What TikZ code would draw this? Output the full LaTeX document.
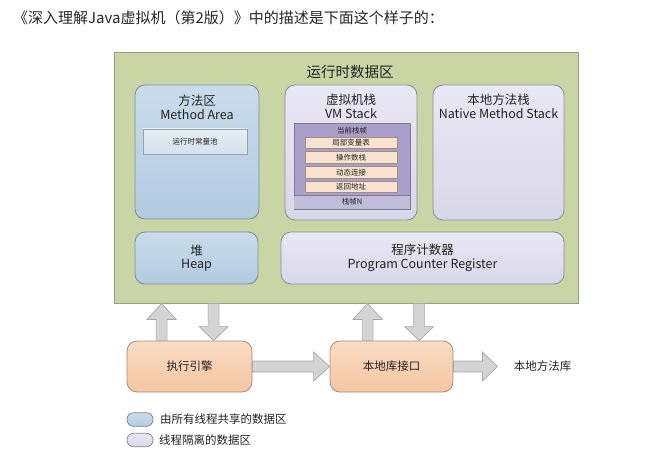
\documentclass[tikz,border=0pt]{standalone}
\usepackage{fontspec}
\setmainfont{Noto Sans CJK SC}
\usetikzlibrary{calc}

\definecolor{areagreen}{HTML}{CAD5A6}
\definecolor{areaedge}{HTML}{939E86}
\definecolor{sharedtop}{HTML}{CADCEC}
\definecolor{sharedbot}{HTML}{B3CAE0}
\definecolor{sharededge}{HTML}{7D8B99}
\definecolor{privtop}{HTML}{EAE8F4}
\definecolor{privbot}{HTML}{D9D6E9}
\definecolor{privedge}{HTML}{8C8B99}
\definecolor{pooltop}{HTML}{E6EDF4}
\definecolor{poolbot}{HTML}{D6E1EC}
\definecolor{frameviolet}{HTML}{A8A0C9}
\definecolor{framelight}{HTML}{C2BCDB}
\definecolor{frameedge}{HTML}{7F7A99}
\definecolor{rowpeach}{HTML}{F9E3CF}
\definecolor{rowedge}{HTML}{A08E84}
\definecolor{enginetop}{HTML}{FADCC3}
\definecolor{enginebot}{HTML}{F5C5A2}
\definecolor{engineedge}{HTML}{A58F80}
\definecolor{arrowfill}{HTML}{D4D4D4}
\definecolor{arrowedge}{HTML}{A8A8A8}
\definecolor{inktext}{HTML}{222222}

% block arrow from #1 to the tip #2, head length #3
\newcommand\jvmarrow[3]{%
  \coordinate (ba-h) at ($(#2)!#3!(#1)$);
  \draw[blockarrow]
    ($(#1)!5.5pt!90:(#2)$) -- ($(ba-h)!5.5pt!90:(#2)$) --
    ($(ba-h)!14.5pt!90:(#2)$) -- (#2) --
    ($(ba-h)!14.5pt!-90:(#2)$) -- ($(ba-h)!5.5pt!-90:(#2)$) --
    ($(#1)!5.5pt!-90:(#2)$) -- cycle;}

\begin{document}
\begin{tikzpicture}[x=1pt,y=-1pt,
  every node/.style={text=inktext},
  box/.style={draw, line width=0.8pt, rounded corners=10pt, inner sep=0pt},
  shared/.style={box, draw=sharededge, top color=sharedtop, bottom color=sharedbot},
  private/.style={box, draw=privedge, top color=privtop, bottom color=privbot},
  engine/.style={box, draw=engineedge, top color=enginetop, bottom color=enginebot,
    font=\fontsize{11.5}{13}\selectfont},
  heading/.style={align=center, font=\fontsize{12.5}{13.5}\selectfont},
  small/.style={font=\fontsize{7.5}{8}\selectfont},
  row/.style={draw=rowedge, fill=rowpeach, line width=0.6pt, minimum width=92pt,
    minimum height=11.5pt, inner sep=0pt, small},
  blockarrow/.style={draw=arrowedge, fill=arrowfill, line width=0.7pt, line join=miter},
  legend/.style={draw, line width=0.8pt, rounded corners=6.5pt, minimum width=26pt,
    minimum height=13.5pt, inner sep=0pt},
  legtext/.style={anchor=west, font=\fontsize{11.5}{13}\selectfont, inner sep=0pt}]

\useasboundingbox (0,0) rectangle (660,465);

% caption line
\node[anchor=west, inner sep=0pt, font=\fontsize{15}{16}\selectfont, text=black!85] (caption)
  at (13,18) {《深入理解Java虚拟机（第2版）》中的描述是下面这个样子的：};

% runtime data area
\node[draw=areaedge, fill=areagreen, line width=0.8pt, minimum width=464pt,
  minimum height=251pt, inner sep=0pt] (rda) at (346,177.5) {};
\node[font=\fontsize{14.5}{16}\selectfont] (rdatitle) at (350,72) {运行时数据区};

% method area
\node[shared, minimum width=124pt, minimum height=134pt] (method) at (197,152) {};
\node[heading] (methodtitle) at (197,107.5) {方法区\\Method Area};
\node[draw=sharededge!80, top color=pooltop, bottom color=poolbot, line width=0.6pt,
  minimum width=104pt, minimum height=25pt, inner sep=0pt, small] (pool)
  at (195,141.5) {运行时常量池};

% VM stack
\node[private, minimum width=132pt, minimum height=135pt] (vmstack) at (351,152.5) {};
\node[heading] (vmtitle) at (351,106.5) {虚拟机栈\\VM Stack};
\node[draw=frameedge, fill=frameviolet, line width=0.6pt, minimum width=116pt,
  minimum height=86pt, inner sep=0pt] (frame) at (352,166) {};
\fill[framelight] ($(frame.south west)+(0.3,-14)$) rectangle ($(frame.south east)+(-0.3,-0.3)$);
\draw[frameedge, line width=0.6pt] ($(frame.south west)+(0,-14)$) -- ($(frame.south east)+(0,-14)$);
\node[small] (curframe) at (352,130.5) {当前栈帧};
\node[row] (locals) at (351,143) {局部变量表};
\node[row] (operands) at (351,157.5) {操作数栈};
\node[row] (dynlink) at (351,172.3) {动态连接};
\node[row] (retaddr) at (351,186.7) {返回地址};
\node[small] (framen) at (352,202) {栈帧N};

% native method stack
\node[private, minimum width=131pt, minimum height=135pt] (native) at (498.5,152.5) {};
\node[heading] (nativetitle) at (498.5,106.5) {本地方法栈\\Native Method Stack};

% heap and program counter
\node[shared, heading, minimum width=123pt, minimum height=52pt] (heap) at (196.5,258) {堆\\Heap};
\node[private, heading, minimum width=283pt, minimum height=52pt] (pc) at (422.5,258)
  {程序计数器\\Program Counter Register};

% execution engine and native interface
\node[engine, minimum width=125pt, minimum height=51pt] (exec) at (189.5,366.5) {执行引擎};
\node[engine, minimum width=123pt, minimum height=51pt] (nif) at (391.5,366.5) {本地库接口};

% vertical exchange arrows
\coordinate (up1) at ($(exec.north west)+(35,0)$);
\coordinate (up1t) at (up1 |- rda.south);
\coordinate (dn1) at ($(exec.north west)+(87,0)$);
\coordinate (dn1s) at (dn1 |- rda.south);
\coordinate (up2) at ($(nif.north west)+(38,0)$);
\coordinate (up2t) at (up2 |- rda.south);
\coordinate (dn2) at ($(nif.north west)+(89.5,0)$);
\coordinate (dn2s) at (dn2 |- rda.south);
\jvmarrow{up1}{up1t}{16pt}
\jvmarrow{dn1s}{dn1}{14pt}
\jvmarrow{up2}{up2t}{16pt}
\jvmarrow{dn2s}{dn2}{14pt}

% horizontal arrows
\jvmarrow{exec.east}{nif.west}{16pt}
\coordinate (libtip) at ($(nif.east)+(44,0)$);
\jvmarrow{nif.east}{libtip}{15pt}
\node[anchor=west, font=\fontsize{11.5}{13}\selectfont] (lib) at ($(libtip)+(13,0)$) {本地方法库};

% legend
\node[legend, draw=sharededge, top color=sharedtop, bottom color=sharedbot] (legshared) at (140,419.5) {};
\node[legtext] (legsharedtext) at (160,419.5) {由所有线程共享的数据区};
\node[legend, draw=privedge, top color=privtop, bottom color=privbot] (legpriv) at (140,440) {};
\node[legtext] (legprivtext) at (159,440) {线程隔离的数据区};

\end{tikzpicture}
\end{document}
